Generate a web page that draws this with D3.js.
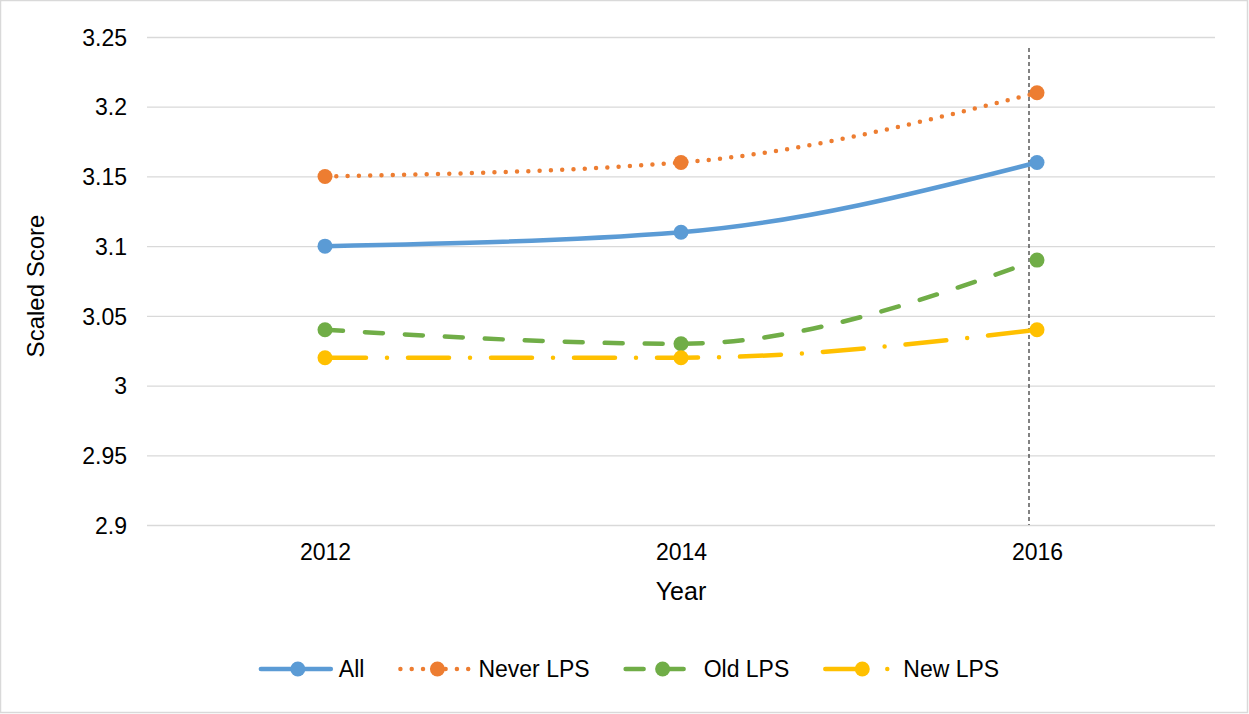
<!DOCTYPE html>
<html>
<head>
<meta charset="utf-8">
<script src="https://cdn.jsdelivr.net/npm/d3@7"></script>
<style>
  body { margin: 0; background: #fff; }
  text { font-family: "Liberation Sans", Arial, sans-serif; fill: #000; }
</style>
</head>
<body>
<div id="chart"></div>
<script>
"use strict";

// == data ==
var years = [2012, 2014, 2016];
var seriesNames = ["All", "Never LPS", "Old LPS", "New LPS"];
var allScores = [3.10, 3.11, 3.16];
var neverScores = [3.15, 3.16, 3.21];
var oldScores = [3.04, 3.03, 3.09];
var newScores = [3.02, 3.02, 3.04];
var yTicks = [2.9, 2.95, 3, 3.05, 3.1, 3.15, 3.2, 3.25];
var markerYear = 2016;

var series = [
  { name: seriesNames[0], values: allScores, color: "#5b9bd5", dash: null },
  { name: seriesNames[1], values: neverScores, color: "#ed7d31", dash: "0,11.3" },
  { name: seriesNames[2], values: oldScores, color: "#70ad47", dash: "18,22" },
  { name: seriesNames[3], values: newScores, color: "#ffc000", dash: "41,21,0,21" }
];

var W = 1249, H = 714;
var svg = d3.select("#chart").append("svg")
  .attr("width", W).attr("height", H);

// outer border
svg.append("rect")
  .attr("x", 0.5).attr("y", 0.5)
  .attr("width", W - 2).attr("height", H - 2)
  .attr("fill", "#fff").attr("stroke", "#d9d9d9").attr("stroke-width", 1.5);

// == scales ==
var x = d3.scalePoint().domain(years).range([147, 1215]).padding(0.5);
var y = d3.scaleLinear().domain([2.9, 3.25]).range([525, 37]);

// == gridlines ==
var yGrid = d3.axisLeft(y).tickValues(yTicks).tickFormat("")
  .tickSizeInner(-(1215 - 147)).tickSizeOuter(0);
var grid = svg.append("g").attr("transform", "translate(147,0)").call(yGrid);
grid.select(".domain").remove();
grid.selectAll("line").attr("stroke", "#d9d9d9").attr("stroke-width", 1.3);

// == y tick labels ==
var yAxis = d3.axisLeft(y).tickValues(yTicks)
  .tickFormat(function (d) { return String(+d.toFixed(2)); })
  .tickSize(0).tickPadding(20);
var ya = svg.append("g").attr("transform", "translate(147,0)").call(yAxis);
ya.select(".domain").remove();
ya.selectAll("text").attr("font-size", 23).attr("font-family", null).attr("dy", "0.36em");

// == x tick labels ==
var xAxis = d3.axisBottom(x).tickSize(0).tickPadding(19);
var xa = svg.append("g").attr("transform", "translate(0,525)").call(xAxis);
xa.select(".domain").remove();
xa.selectAll("text").attr("font-size", 23).attr("font-family", null);

// == axis titles ==
svg.append("text")
  .attr("x", 681).attr("y", 600)
  .attr("text-anchor", "middle").attr("font-size", 25)
  .text("Year");

svg.append("text")
  .attr("transform", "translate(44,286) rotate(-90)")
  .attr("text-anchor", "middle").attr("font-size", 24)
  .text("Scaled Score");

// == dashed reference line ==
svg.append("line")
  .attr("x1", x(markerYear) - 8).attr("x2", x(markerYear) - 8)
  .attr("y1", 48).attr("y2", y(2.9))
  .attr("stroke", "#404040").attr("stroke-width", 1.3)
  .attr("stroke-dasharray", "4,3");

// == lines ==
var line = d3.line()
  .x(function (d, i) { return x(years[i]); })
  .y(function (d) { return y(d); })
  .curve(d3.curveMonotoneX);

var groups = svg.selectAll(".series")
  .data(series)
  .enter()
  .append("g")
  .attr("class", "series");

groups.append("path")
  .attr("d", function (d) { return line(d.values); })
  .attr("fill", "none")
  .attr("stroke", function (d) { return d.color; })
  .attr("stroke-width", 4.5)
  .attr("stroke-linecap", "round")
  .attr("stroke-dasharray", function (d) { return d.dash; });

groups.selectAll("circle")
  .data(function (d) { return d.values.map(function (v, i) { return { v: v, i: i, color: d.color }; }); })
  .enter()
  .append("circle")
  .attr("cx", function (d) { return x(years[d.i]); })
  .attr("cy", function (d) { return y(d.v); })
  .attr("r", 7.5)
  .attr("fill", function (d) { return d.color; });

// == legend ==
var legend = svg.append("g");
var items = legend.selectAll("g")
  .data(series)
  .enter()
  .append("g");

items.append("line")
  .attr("x1", 0).attr("x2", 70)
  .attr("y1", 0).attr("y2", 0)
  .attr("stroke", function (d) { return d.color; })
  .attr("stroke-width", 4.5)
  .attr("stroke-linecap", "round")
  .attr("stroke-dasharray", function (d) { return d.dash; });

items.append("circle")
  .attr("cx", 37).attr("cy", 0).attr("r", 7.5)
  .attr("fill", function (d) { return d.color; });

items.append("text")
  .attr("x", 78).attr("y", 0).attr("dy", "0.36em")
  .attr("font-size", 23)
  .text(function (d) { return d.name; });

var offset = 0;
items.each(function () {
  var g = d3.select(this);
  var w = 78 + g.select("text").node().getComputedTextLength();
  g.attr("transform", "translate(" + offset + ",0)");
  offset += w + 36;
});
var total = offset - 36;
legend.attr("transform", "translate(" + (630 - total / 2) + ",669)");
</script>
</body>
</html>
